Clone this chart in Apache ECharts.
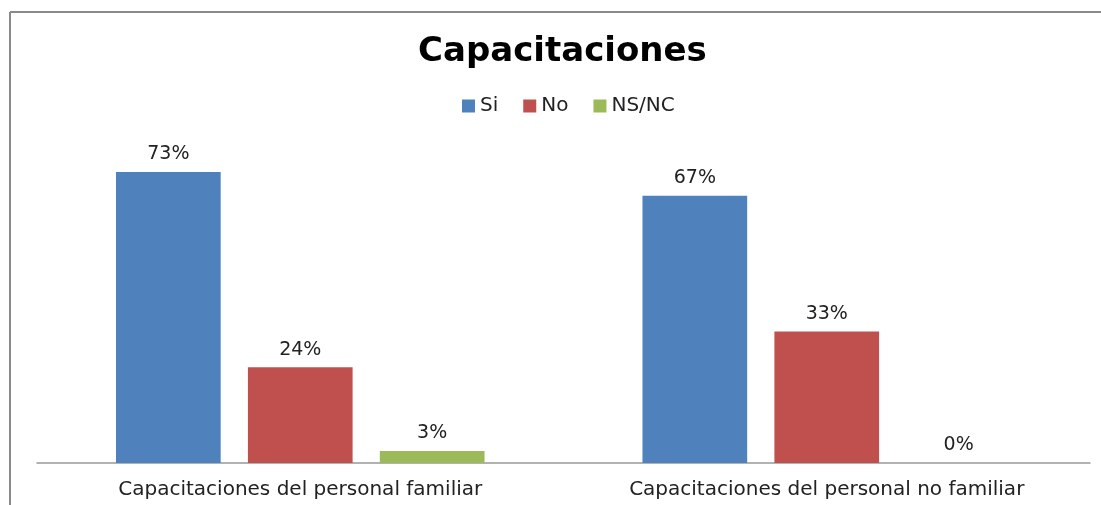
<!DOCTYPE html>
<html>
<head>
<meta charset="utf-8">
<script src="https://cdn.jsdelivr.net/npm/echarts@6/dist/echarts.min.js"></script>
<style>
  html, body { margin: 0; padding: 0; background: #fff; }
  #chart { width: 1101px; height: 505px; }
</style>
</head>
<body>
<div id="chart"></div>
<script>
var categories = ['Capacitaciones del personal familiar', 'Capacitaciones del personal no familiar'];
var seriesNames = ['Si', 'No', 'NS/NC'];
var siValues = [73, 67];
var noValues = [24, 33];
var nsncValues = [3, 0];
var colors = ['#4F81BD', '#C0504D', '#9BBB59'];

var fontFamily = '"DejaVu Sans", "Open Sans", sans-serif';

function makeSeries(name, data, color) {
    return {
        name: name,
        type: 'bar',
        data: data,
        barGap: '26%',
        barCategoryGap: '30%',
        itemStyle: { color: color },
        label: {
            show: true,
            position: 'top',
            distance: 8,
            formatter: '{c}%',
            color: '#222',
            fontSize: 19,
            fontFamily: fontFamily
        }
    };
}

var chart = echarts.init(document.getElementById('chart'));
var option = {
    animation: false,
    backgroundColor: '#fff',
    title: {
        text: 'Capacitaciones',
        left: 413,
        top: 30,
        textStyle: { fontSize: 34, fontWeight: 'bold', color: '#000', fontFamily: fontFamily }
    },
    legend: {
        data: seriesNames,
        top: 91,
        left: 457,
        itemWidth: 13,
        itemHeight: 13,
        itemGap: 25,
        icon: 'rect',
        textStyle: { fontSize: 20, color: '#222', fontFamily: fontFamily }
    },
    grid: { left: 37, right: 11, top: 144, bottom: 42 },
    xAxis: {
        type: 'category',
        data: categories,
        axisLine: { lineStyle: { color: '#999', width: 1.5 } },
        axisTick: { show: false },
        axisLabel: { fontSize: 20, color: '#222', margin: 17, fontFamily: fontFamily }
    },
    yAxis: {
        type: 'value',
        min: 0,
        max: 80,
        show: false
    },
    graphic: [
        { type: 'line', shape: { x1: 10, y1: 12, x2: 1101, y2: 12 }, style: { stroke: '#8a8a8a', lineWidth: 2 } },
        { type: 'line', shape: { x1: 10, y1: 12, x2: 10, y2: 505 }, style: { stroke: '#8a8a8a', lineWidth: 2 } }
    ],
    series: [
        makeSeries(seriesNames[0], siValues, colors[0]),
        makeSeries(seriesNames[1], noValues, colors[1]),
        makeSeries(seriesNames[2], nsncValues, colors[2])
    ]
};
chart.setOption(option);
</script>
</body>
</html>
